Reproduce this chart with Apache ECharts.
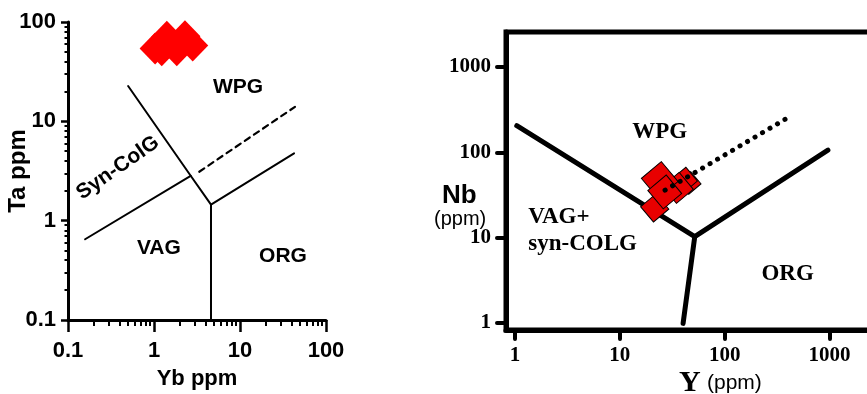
<!DOCTYPE html>
<html>
<head>
<meta charset="utf-8">
<script src="https://cdn.jsdelivr.net/npm/echarts@6/dist/echarts.min.js"></script>
<style>html,body{margin:0;padding:0;background:#fff;}#c{width:867px;height:394px;}</style>
</head>
<body>
<div id="c"></div>
<script>
// ---------- DATA (ppm) ----------
// Left panel: Ta vs Yb
const leftTickValues = [0.1, 1, 10, 100];
const leftTickLabels = ['0.1', '1', '10', '100'];
const leftSampleYb = [1.03, 1.23, 1.41, 1.84, 2.29, 2.82];
const leftSampleTa = [54, 52, 71, 52, 72, 58];
const leftBoundaryA_Yb = [0.5, 2.67, 4.6];      // syn-COLG / WPG line
const leftBoundaryA_Ta = [22.7, 2.83, 1.45];
const leftBoundaryB_Yb = [0.158, 2.67];         // VAG / syn-COLG
const leftBoundaryB_Ta = [0.65, 2.83];
const leftBoundaryC_Yb = [4.6, 4.6];            // VAG / ORG
const leftBoundaryC_Ta = [1.45, 0.1];
const leftBoundaryD_Yb = [4.6, 42.5];           // WPG / ORG
const leftBoundaryD_Ta = [1.45, 4.76];
const leftDashed_Yb = [3.36, 43.6];
const leftDashed_Ta = [3.11, 14.0];
const leftFieldNames = ['WPG', 'VAG', 'ORG', 'Syn-ColG'];
const leftFieldYb = [9.5, 1.14, 31.6, 0.38];
const leftFieldTa = [22, 0.53, 0.44, 3.4];

// Right panel: Nb vs Y
const rightTickValues = [1, 10, 100, 1000];
const rightTickLabels = ['1', '10', '100', '1000'];
const rightSampleY = [21.5, 46.4, 41.6, 35.7, 24.0, 26.8];
const rightSampleNb = [22.3, 43.8, 47.5, 38.3, 47.5, 34.3];
const rightBoundaryA_Y = [1.04, 51.8, 40.1];
const rightBoundaryA_Nb = [205, 10.3, 0.99];
const rightBoundaryB_Y = [51.8, 964];
const rightBoundaryB_Nb = [10.3, 106];
const rightDotted_Y = [27, 390];
const rightDotted_Nb = [36, 250];
const rightFieldNames = ['WPG', 'VAG+\nsyn-COLG', 'ORG'];
const rightFieldY = [24, 1.2, 398];
const rightFieldNb = [173, 12.0, 3.75];

// ---------- STYLE ----------
const rightMarkerSizes = [20, 16, 18, 22, 26, 24];
const SANS = 'Liberation Sans, Arial, sans-serif';
const SERIF = 'Liberation Serif, Times New Roman, serif';

const lg = v => Math.log10(v);
const pairs = (xs, ys) => xs.map((x, i) => [lg(x), lg(ys[i])]);
function minorExps(lo, hi) {
  const out = [];
  for (let e = lo; e < hi; e++) for (let k = 2; k <= 9; k++) out.push(lg(k * Math.pow(10, e)));
  return out;
}
function fmt(vals, labels) {
  const exps = vals.map(lg);
  return v => { const i = exps.findIndex(e => Math.abs(e - v) < 1e-6); return i >= 0 ? labels[i] : ''; };
}

const leftExps = leftTickValues.map(lg);
const rightExps = rightTickValues.map(lg);
const leftMinor = minorExps(-1, 2);

const chart = echarts.init(document.getElementById('c'), null, {renderer: 'canvas'});

const lineSeries = (data, xi, yi, width, type) => ({
  type: 'line', xAxisIndex: xi, yAxisIndex: yi, data: data, showSymbol: false, symbol: 'none',
  silent: true, z: 3,
  lineStyle: {color: '#000', width: width, type: type || 'solid', cap: 'round', join: 'round', opacity: 1}
});

const option = {
  animation: false,
  backgroundColor: '#fff',
  grid: [
    {left: 68, top: 22, width: 258, height: 298, containLabel: false, outerBoundsMode: 'none'},
    {left: 506, top: 32, width: 376, height: 298, containLabel: false, outerBoundsMode: 'none',
     show: true, borderColor: '#000', borderWidth: 5, backgroundColor: 'transparent'}
  ],
  xAxis: [
    {gridIndex: 0, type: 'value', min: -1, max: 2, position: 'bottom',
     axisLine: {show: true, onZero: false, lineStyle: {color: '#000', width: 3}},
     axisTick: {show: true, customValues: leftExps, length: 12, lineStyle: {color: '#000', width: 2.5}},
     axisLabel: {show: true, customValues: leftExps, formatter: fmt(leftTickValues, leftTickLabels),
       margin: 20, color: '#000', fontFamily: SANS, fontWeight: 'bold', fontSize: 22},
     splitLine: {show: false},
     name: 'Yb ppm', nameLocation: 'middle', nameGap: 48, nameMoveOverlap: false,
     nameTextStyle: {color: '#000', fontFamily: SANS, fontWeight: 'bold', fontSize: 22}},
    {gridIndex: 0, type: 'value', min: -1, max: 2, position: 'bottom', offset: 0,
     axisLine: {show: false, onZero: false},
     axisTick: {show: true, customValues: leftMinor, length: 6, lineStyle: {color: '#000', width: 2}},
     axisLabel: {show: false}, splitLine: {show: false}},
    {gridIndex: 1, type: 'value', min: -0.0857, max: 3.5, position: 'bottom',
     axisLine: {show: true, onZero: false, lineStyle: {color: '#000', width: 5}},
     axisTick: {show: true, customValues: rightExps, length: 9, lineStyle: {color: '#000', width: 4, cap: 'round'}},
     axisLabel: {show: true, customValues: rightExps, formatter: fmt(rightTickValues, rightTickLabels),
       margin: 15, color: '#000', fontFamily: SERIF, fontWeight: 'bold', fontSize: 21},
     splitLine: {show: false}}
  ],
  yAxis: [
    {gridIndex: 0, type: 'value', min: -1, max: 2, position: 'left',
     axisLine: {show: true, onZero: false, lineStyle: {color: '#000', width: 3}},
     axisTick: {show: true, customValues: leftExps, length: 7, lineStyle: {color: '#000', width: 2.5}},
     axisLabel: {show: true, customValues: leftExps, formatter: fmt(leftTickValues, leftTickLabels),
       margin: 12, color: '#000', fontFamily: SANS, fontWeight: 'bold', fontSize: 22},
     splitLine: {show: false},
     name: 'Ta ppm', nameLocation: 'middle', nameGap: 38, nameRotate: 90, nameMoveOverlap: false,
     nameTextStyle: {color: '#000', fontFamily: SANS, fontWeight: 'bold', fontSize: 24}},
    {gridIndex: 0, type: 'value', min: -1, max: 2, position: 'left', offset: 0,
     axisLine: {show: false, onZero: false},
     axisTick: {show: true, customValues: leftMinor, length: 3.5, lineStyle: {color: '#000', width: 2}},
     axisLabel: {show: false}, splitLine: {show: false}},
    {gridIndex: 1, type: 'value', min: -0.082, max: 3.41, position: 'left',
     axisLine: {show: true, onZero: false, lineStyle: {color: '#000', width: 5}},
     axisTick: {show: true, customValues: rightExps, length: 9, lineStyle: {color: '#000', width: 4, cap: 'round'}},
     axisLabel: {show: true, customValues: rightExps, formatter: fmt(rightTickValues, rightTickLabels),
       margin: 15, color: '#000', fontFamily: SERIF, fontWeight: 'bold', fontSize: 21},
     splitLine: {show: false}}
  ],
  series: [
    lineSeries(pairs(leftBoundaryA_Yb, leftBoundaryA_Ta), 0, 0, 2),
    lineSeries(pairs(leftBoundaryB_Yb, leftBoundaryB_Ta), 0, 0, 2),
    lineSeries(pairs(leftBoundaryC_Yb, leftBoundaryC_Ta), 0, 0, 2),
    lineSeries(pairs(leftBoundaryD_Yb, leftBoundaryD_Ta), 0, 0, 2),
    lineSeries(pairs(leftDashed_Yb, leftDashed_Ta), 0, 0, 2.2, [6, 5]),
    {type: 'scatter', xAxisIndex: 0, yAxisIndex: 0, silent: true, z: 4,
     data: pairs(leftSampleYb, leftSampleTa), symbol: 'diamond', symbolSize: [31, 32],
     itemStyle: {color: '#ff0000', opacity: 1}},
    {type: 'scatter', xAxisIndex: 0, yAxisIndex: 0, silent: true, z: 5, symbolSize: 0,
     data: leftFieldYb.map((x, i) => ({name: leftFieldNames[i], value: [lg(x), lg(leftFieldTa[i])],
       label: {rotate: leftFieldNames[i] === 'Syn-ColG' ? 35 : 0}})),
     itemStyle: {color: 'transparent', opacity: 1},
     label: {show: true, position: 'inside', formatter: p => p.name, color: '#000', opacity: 1,
       fontFamily: SANS, fontWeight: 'bold', fontSize: 21}},

    lineSeries(pairs(rightBoundaryA_Y, rightBoundaryA_Nb), 2, 2, 5),
    lineSeries(pairs(rightBoundaryB_Y, rightBoundaryB_Nb), 2, 2, 5),
    {type: 'scatter', xAxisIndex: 2, yAxisIndex: 2, silent: true, z: 4,
     data: pairs(rightSampleY, rightSampleNb), symbol: 'rect', symbolRotate: 40,
     symbolSize: (v, p) => rightMarkerSizes[p.dataIndex],
     itemStyle: {color: '#e80000', borderColor: '#000', borderWidth: 1, opacity: 1}},
    Object.assign(lineSeries(pairs(rightDotted_Y, rightDotted_Nb), 2, 2, 5, [0.1, 8.6]), {z: 6}),
    {type: 'scatter', xAxisIndex: 2, yAxisIndex: 2, silent: true, z: 5, symbolSize: 0,
     data: rightFieldY.map((x, i) => ({name: rightFieldNames[i], value: [lg(x), lg(rightFieldNb[i])],
       label: i === 1 ? {align: 'left', position: 'insideLeft'} : {}})),
     itemStyle: {color: 'transparent', opacity: 1},
     label: {show: true, position: 'inside', formatter: p => p.name, color: '#000', opacity: 1,
       fontFamily: SERIF, fontWeight: 'bold', fontSize: 23, lineHeight: 27}}
  ],
  graphic: [
    {type: 'text', left: 442, top: 183, silent: true,
     style: {text: 'Nb', fill: '#000', font: 'bold 26px ' + SANS}},
    {type: 'text', left: 434, top: 209, silent: true,
     style: {text: '(ppm)', fill: '#000', font: '20px ' + SANS}},
    {type: 'text', left: 679, top: 368, silent: true,
     style: {text: 'Y', fill: '#000', font: 'bold 30px ' + SERIF}},
    {type: 'text', left: 707, top: 373, silent: true,
     style: {text: '(ppm)', fill: '#000', font: '21px ' + SANS}}
  ]
};
chart.setOption(option);
</script>
</body>
</html>
